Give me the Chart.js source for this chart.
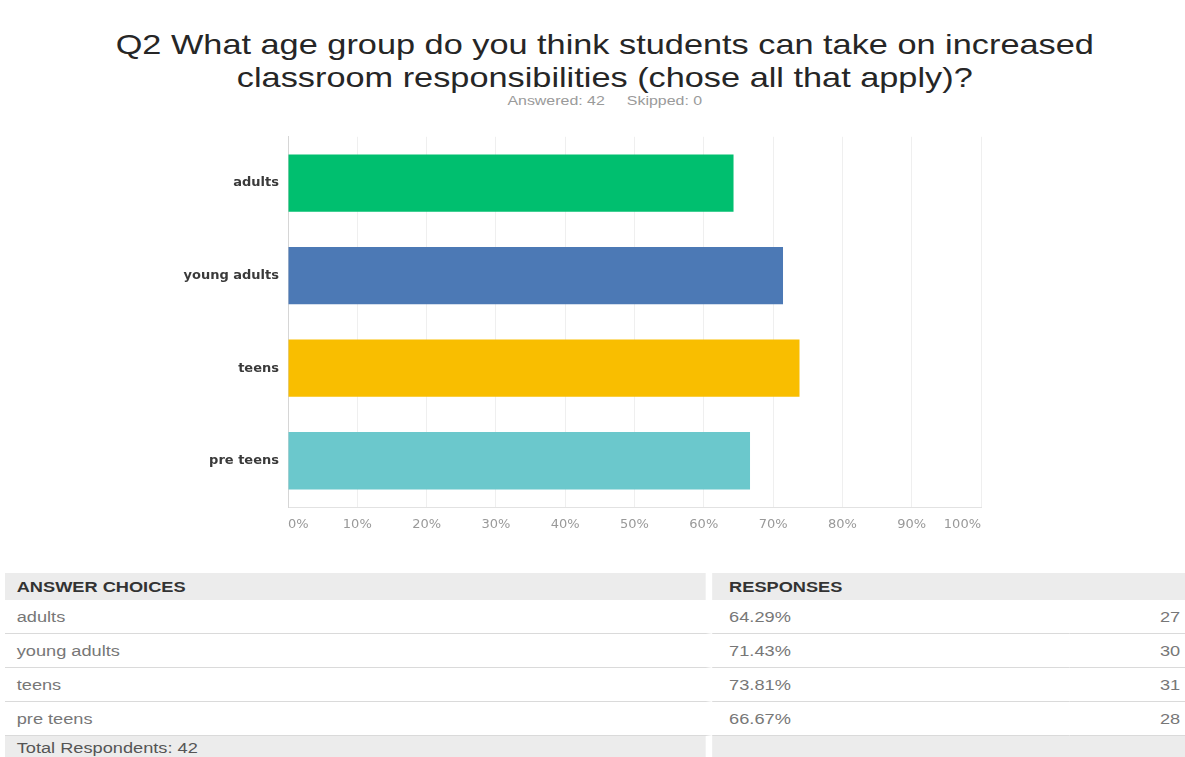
<!DOCTYPE html>
<html>
<head>
<meta charset="utf-8">
<title>Q2 age groups</title>
<script src="https://cdn.jsdelivr.net/npm/chart.js@4.4.1/dist/chart.umd.min.js"></script>
<style>
    body {
        margin: 0;
        width: 1185px;
        height: 757px;
        overflow: hidden;
        position: relative;
        background: #fff;
        font-family: "Liberation Sans", Arial, sans-serif;
    }
    .wide {
        transform-origin: 0 0;
    }
    #head {
        position: absolute;
        left: 18px;
        top: 0;
        width: 958px;
        text-align: center;
        transform: scaleX(1.225);
    }
    #head h1 {
        margin: 0;
        padding-top: 28px;
        font-size: 28px;
        line-height: 33px;
        font-weight: normal;
        color: #262626;
    }
    #head .stats {
        font-size: 13px;
        line-height: 14px;
        color: #9a9a9a;
    }
    #head .stats span + span {
        margin-left: 18px;
    }
    #chartBox {
        position: absolute;
        left: 0;
        top: 120px;
        width: 1185px;
        height: 420px;
    }
    #answers {
        position: absolute;
        left: 5px;
        top: 573px;
        width: 908px;
        transform: scaleX(1.3);
        border-collapse: separate;
        border-spacing: 0;
        font-size: 14px;
        color: #777;
    }
    #answers th {
        height: 27px;
        padding: 0;
        background: #ececec;
        color: #333;
        text-align: left;
        font-weight: bold;
    }
    #answers td {
        height: 33px;
        padding: 0;
        border-bottom: 1px solid #dadada;
    }
    #answers tr.total td {
        height: 30px;
        border-bottom: 0;
        background: #ececec;
        color: #555;
        vertical-align: top;
        padding-top: 4px;
    }
    #answers .choice {
        width: 530px;
        padding-left: 9px;
        border-right: 5px solid #fff;
    }
    #answers td.choice {
        border-right-color: transparent;
    }
    #answers tr.total td.choice,
    #answers th.choice {
        border-right-color: #fff;
    }
    #answers .pct {
        padding-left: 13px;
    }
    #answers .cnt {
        text-align: right;
        padding-right: 4px;
    }
</style>
</head>
<body>
<div id="head" class="wide">
    <h1>Q2 What age group do you think students can take on increased<br>classroom responsibilities (chose all that apply)?</h1>
    <div class="stats"><span id="answered"></span><span id="skipped"></span></div>
</div>
<div id="chartBox"><canvas id="chart"></canvas></div>
<table id="answers" class="wide"></table>
<script>
//---------
//Constants
//---------

//Answer choices
const CATEGORIES = ["adults", "young adults", "teens", "pre teens"];

//Share of respondents, %
const PERCENTS = [64.29, 71.43, 73.81, 66.67];

//Number of respondents
const COUNTS = [27, 30, 31, 28];

//Survey totals
const ANSWERED = 42;
const SKIPPED = 0;

//Bar colours
const BAR_COLORS = ["#00bf6f", "#4c79b5", "#f9be00", "#6bc8cc"];

//-----------
//Module body
//-----------

//Header counters
document.getElementById("answered").textContent = "Answered: " + ANSWERED;
document.getElementById("skipped").textContent = "Skipped: " + SKIPPED;

//Horizontal bar chart
const chart = new Chart(document.getElementById("chart").getContext("2d"), {
    type: "bar",
    data: {
        labels: [...CATEGORIES],
        datasets: [
            {
                data: [...PERCENTS],
                backgroundColor: BAR_COLORS,
                barPercentage: 0.62,
                categoryPercentage: 1
            }
        ]
    },
    options: {
        indexAxis: "y",
        responsive: true,
        maintainAspectRatio: false,
        animation: false,
        layout: { padding: { top: 14, right: 204, bottom: 0, left: 0 } },
        plugins: {
            legend: { display: false },
            tooltip: { enabled: false }
        },
        scales: {
            x: {
                min: 0,
                max: 100,
                grid: { color: "#efefef", drawTicks: false },
                border: { color: "#e2e2e2" },
                ticks: {
                    stepSize: 10,
                    align: "inner",
                    padding: 10,
                    color: "#999",
                    font: { family: "DejaVu Sans", size: 13 },
                    callback: v => v + "%"
                },
                afterFit: s => {
                    s.height = 33;
                }
            },
            y: {
                grid: { display: false, drawTicks: false },
                border: { color: "#d6d6d6" },
                ticks: {
                    padding: 9,
                    color: "#3a3a3a",
                    font: { family: "DejaVu Sans", size: 13, weight: "bold" }
                },
                afterFit: s => {
                    s.width = 288;
                }
            }
        }
    }
});

//Responses table
const table = document.getElementById("answers");
let html = '<tr><th class="choice">ANSWER CHOICES</th><th colspan="2" class="pct">RESPONSES</th></tr>';
CATEGORIES.forEach((c, i) => {
    html +=
        '<tr><td class="choice">' + c + '</td><td class="pct">' + PERCENTS[i].toFixed(2) + '%</td><td class="cnt">' + COUNTS[i] + "</td></tr>";
});
html += '<tr class="total"><td class="choice">Total Respondents: ' + ANSWERED + '</td><td colspan="2"></td></tr>';
table.innerHTML = html;
</script>
</body>
</html>
